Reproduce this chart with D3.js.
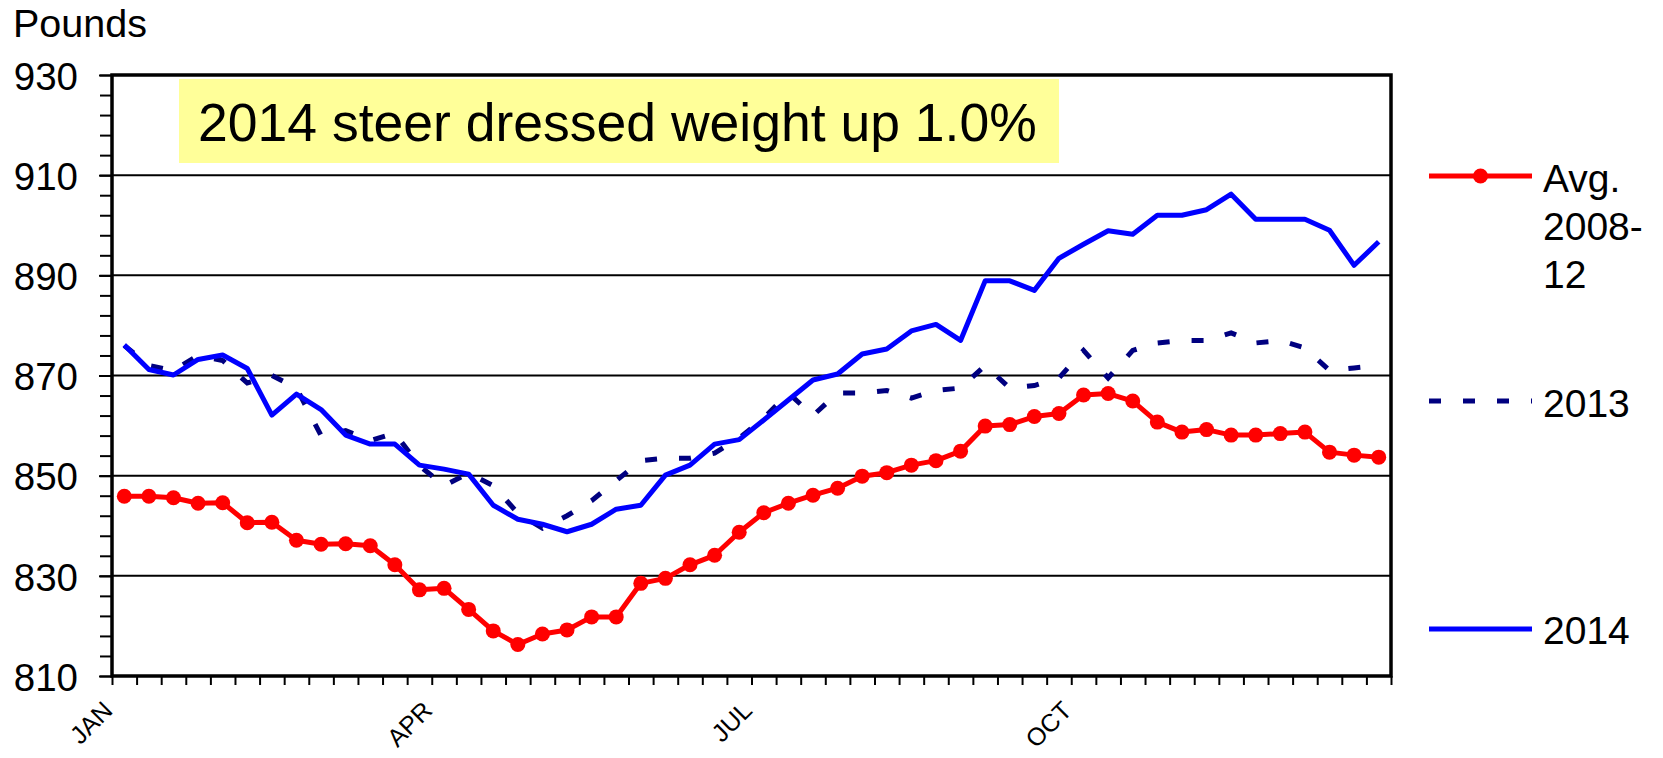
<!DOCTYPE html>
<html>
<head>
<meta charset="utf-8">
<script src="https://cdn.jsdelivr.net/npm/d3@7"></script>
<style>
  body { margin: 0; background: #fff; }
  svg { display: block; font-family: Arial, "Liberation Sans", sans-serif; }
</style>
</head>
<body>
<div id="chart"></div>
<script>
// weekly categories (52 weeks)
const weeks = d3.range(1, 53);
const monthLabels = ["JAN", "APR", "JUL", "OCT"];
const monthStartWeek = [0, 13, 26, 39];

// series values (pounds)
const avg2008to12 = [845.9, 845.9, 845.6, 844.5, 844.6, 840.6, 840.7, 837.1, 836.3, 836.4,
  836.0, 832.2, 827.2, 827.5, 823.3, 819.0, 816.3, 818.4, 819.2, 821.8,
  821.8, 828.5, 829.5, 832.2, 834.1, 838.7, 842.6, 844.5, 846.1, 847.5,
  849.9, 850.6, 852.1, 853.0, 854.9, 859.9, 860.2, 861.8, 862.4, 866.1,
  866.4, 864.9, 860.7, 858.7, 859.2, 858.1, 858.1, 858.4, 858.7, 854.7,
  854.1, 853.7];
const y2013 = [876, 872, 871, 874, 873, 868.5, 870, 867.5, 858, 859,
  857, 858.5, 852, 848, 850.5, 848, 842.5, 839.5, 842, 845,
  849, 853, 853.5, 853.5, 854.5, 857.5, 861.5, 866.5, 862, 866.5,
  866.5, 867, 865.5, 867, 867.5, 872, 867.5, 868, 869.5, 875,
  869.5, 875, 876.5, 877, 877, 878.5, 876.5, 877, 875.5, 871,
  871.5, 872];
const y2014 = [876.1, 871.2, 870.1, 873.2, 874.1, 871.4, 862.1, 866.3, 863.2, 858.1,
  856.3, 856.3, 852.1, 851.3, 850.3, 844.1, 841.3, 840.3, 838.8, 840.3,
  843.3, 844.1, 850.1, 852.1, 856.3, 857.2, 861.1, 865.1, 869.1, 870.3,
  874.3, 875.3, 878.9, 880.2, 877.0, 888.9, 888.9, 887.0, 893.4, 896.2,
  898.9, 898.2, 902.0, 902.0, 903.1, 906.2, 901.2, 901.2, 901.2, 899.0,
  892.0, 896.7];
const yMajorTicks = [810, 830, 850, 870, 890, 910, 930];

const width = 1663, height = 758;
const plotLeft = 112, plotRight = 1391, plotTop = 75, plotBottom = 676;

const svg = d3.select("#chart").append("svg")
    .attr("width", width)
    .attr("height", height);

const x = d3.scaleBand().domain(weeks).range([plotLeft, plotRight]).padding(0);
const xEdge = d3.scaleLinear().domain([0, weeks.length]).range([plotLeft, plotRight]);
const y = d3.scaleLinear().domain([810, 930]).range([plotBottom, plotTop]);
const cx = (d, i) => x(weeks[i]) + x.bandwidth() / 2;

// gridlines
svg.append("g")
  .selectAll("line")
  .data(yMajorTicks.slice(1, -1))
  .join("line")
    .attr("x1", plotLeft).attr("x2", plotRight)
    .attr("y1", d => y(d)).attr("y2", d => y(d))
    .attr("stroke", "#000").attr("stroke-width", 2);

// yellow note
svg.append("rect")
    .attr("x", 179).attr("y", 79).attr("width", 880).attr("height", 84)
    .attr("fill", "#FFFF99");
svg.append("text")
    .attr("x", 198).attr("y", 141)
    .attr("font-size", 53.5)
    .text("2014 steer dressed weight up 1.0%");

// y axis: minor ticks, then major ticks with labels
svg.append("g")
    .attr("transform", `translate(${plotLeft},0)`)
    .call(d3.axisLeft(y).tickValues(d3.range(810, 931, 4)).tickSize(12).tickFormat(""))
    .call(g => g.select(".domain").remove())
    .call(g => g.selectAll("line").attr("stroke-width", 2));
svg.append("g")
    .attr("transform", `translate(${plotLeft},0)`)
    .call(d3.axisLeft(y).tickValues(yMajorTicks).tickSize(13).tickPadding(21).tickFormat(d3.format("d")))
    .call(g => g.select(".domain").remove())
    .call(g => g.selectAll("line").attr("stroke-width", 2))
    .call(g => g.selectAll("text")
        .attr("font-size", 38.5).attr("font-family", "Arial, 'Liberation Sans', sans-serif")
        .attr("fill", "#000").attr("dy", "0.37em"));

// x axis ticks at week boundaries
svg.append("g")
    .attr("transform", `translate(0,${plotBottom})`)
    .call(d3.axisBottom(xEdge).tickValues(d3.range(weeks.length + 1)).tickSize(9).tickFormat(""))
    .call(g => g.select(".domain").remove())
    .call(g => g.selectAll("line").attr("stroke-width", 2));

svg.append("g")
  .selectAll("text")
  .data(monthLabels)
  .join("text")
    .attr("transform", (d, i) => `translate(${xEdge(monthStartWeek[i]) + 2},${plotBottom + 36}) rotate(-45)`)
    .attr("text-anchor", "end")
    .attr("font-size", 25)
    .text(d => d);

// plot border
svg.append("rect")
    .attr("x", plotLeft).attr("y", plotTop)
    .attr("width", plotRight - plotLeft).attr("height", plotBottom - plotTop)
    .attr("fill", "none").attr("stroke", "#000").attr("stroke-width", 3.5);

svg.append("text")
    .attr("x", 13).attr("y", 37)
    .attr("font-size", 39.5)
    .text("Pounds");

// series
const line = d3.line().x(cx).y(d => y(d));

svg.append("path")
    .datum(avg2008to12)
    .attr("d", line)
    .attr("fill", "none").attr("stroke", "#FF0000").attr("stroke-width", 5)
    .attr("stroke-linejoin", "round");
svg.append("g")
  .selectAll("circle")
  .data(avg2008to12)
  .join("circle")
    .attr("cx", cx).attr("cy", d => y(d)).attr("r", 7.5)
    .attr("fill", "#FF0000");

svg.append("path")
    .datum(y2013)
    .attr("d", line)
    .attr("fill", "none").attr("stroke", "#000080").attr("stroke-width", 5)
    .attr("stroke-dasharray", "12,22");

svg.append("path")
    .datum(y2014)
    .attr("d", line)
    .attr("fill", "none").attr("stroke", "#0000FF").attr("stroke-width", 5)
    .attr("stroke-linejoin", "round");

// legend
const legend = svg.append("g");
const lx1 = 1429, lx2 = 1532, tx = 1543;

legend.append("line").attr("x1", lx1).attr("x2", lx2).attr("y1", 176).attr("y2", 176)
    .attr("stroke", "#FF0000").attr("stroke-width", 5);
legend.append("circle").attr("cx", (lx1 + lx2) / 2).attr("cy", 176).attr("r", 7.5).attr("fill", "#FF0000");
["Avg.", "2008-", "12"].forEach((t, i) => {
  legend.append("text").attr("x", tx).attr("y", 192 + i * 48).attr("font-size", 39).text(t);
});

legend.append("line").attr("x1", lx1).attr("x2", lx2).attr("y1", 401).attr("y2", 401)
    .attr("stroke", "#000080").attr("stroke-width", 5).attr("stroke-dasharray", "12,22");
legend.append("text").attr("x", tx).attr("y", 417).attr("font-size", 39).text("2013");

legend.append("line").attr("x1", lx1).attr("x2", lx2).attr("y1", 629).attr("y2", 629)
    .attr("stroke", "#0000FF").attr("stroke-width", 5);
legend.append("text").attr("x", tx).attr("y", 644).attr("font-size", 39).text("2014");
</script>
</body>
</html>
